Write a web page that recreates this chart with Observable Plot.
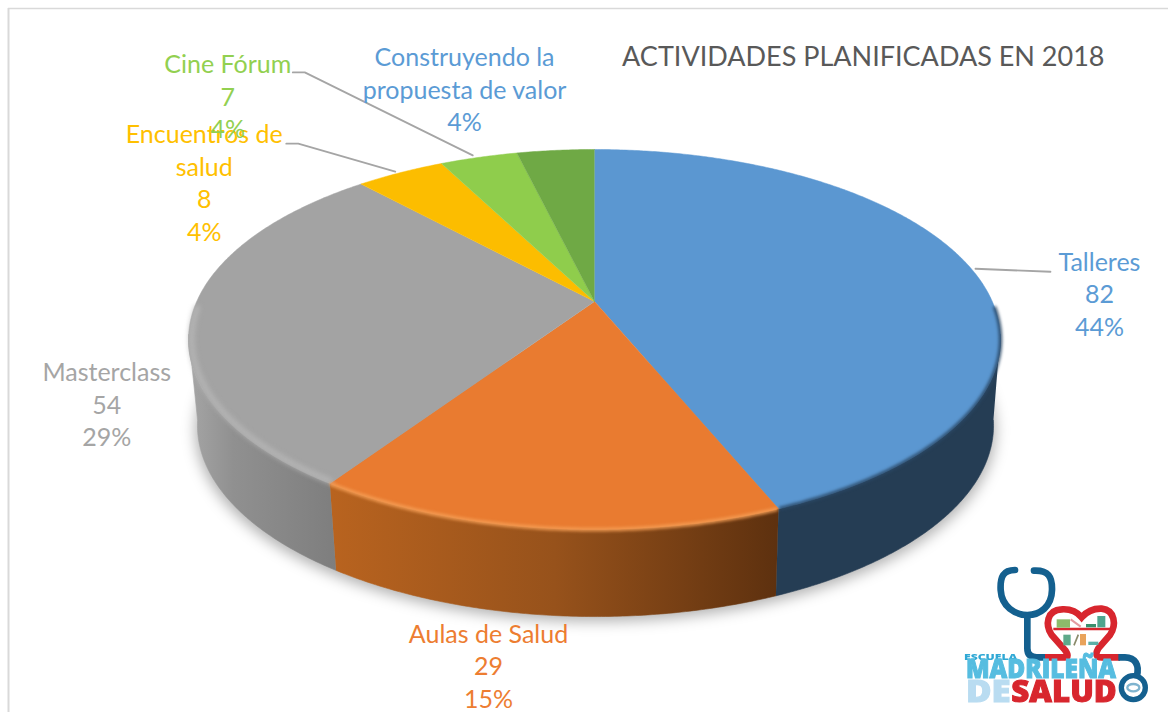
<!DOCTYPE html>
<html><head><meta charset="utf-8">
<script src="https://cdn.jsdelivr.net/npm/d3@7"></script>
<script src="https://cdn.jsdelivr.net/npm/@observablehq/plot@0.6"></script>
<style>
html,body{margin:0;padding:0;background:#fff}
#wrap{position:relative;width:1168px;height:712px;overflow:hidden}
#wrap>svg{display:block}
#logo{position:absolute;left:950px;top:560px;width:218px;height:152px;filter:blur(.6px)}
#logo text{font-family:"Open Sans",sans-serif;font-weight:800;stroke-width:3}
</style></head><body><div id="wrap"><div id="chart"></div>
<svg id="logo" viewBox="0 0 654 456" fill="none">
<path d="M195 30C160 30 150 50 152 90C155 140 195 165 232 165C270 165 305 140 306 90C307 50 295 30 252 32" stroke="#14608f" stroke-width="20" stroke-linecap="round"/>
<path d="M232 165V265Q232 292 260 292H290" stroke="#14608f" stroke-width="20"/>
<path d="M285 292H345Q360 292 345 270L305 225C285 195 290 150 335 148C365 146 385 160 395 172C410 155 430 145 455 146C495 150 500 195 480 225L445 265Q430 292 455 292H510" stroke="#d8262e" stroke-width="20"/>
<path d="M505 292H525C555 292 570 315 560 350" stroke="#14608f" stroke-width="20"/>
<circle cx="550" cy="383" r="36" stroke="#14608f" stroke-width="16"/>
<ellipse cx="550" cy="383" rx="18" ry="11" stroke="#7fb4cf" stroke-width="7"/>
<path d="M310 207H482" stroke="#d8262e" stroke-width="8"/>
<rect x="320" y="178" width="40" height="25" fill="#8dbb6a"/><path d="M362 178L392 200" stroke="#e39aa0" stroke-width="6"/><rect x="442" y="168" width="24" height="34" fill="#4fa58e"/><rect x="408" y="192" width="30" height="10" fill="#3a8f6d"/>
<rect x="340" y="224" width="22" height="32" fill="#5ea98a"/><path d="M372 256L385 224" stroke="#8a8a6a" stroke-width="5"/><rect x="390" y="222" width="18" height="34" fill="#e9a35b"/><rect x="415" y="245" width="30" height="10" fill="#5cb0a8"/>
<text x="42" y="299" font-size="27" fill="#2fa8d5" textLength="160" lengthAdjust="spacingAndGlyphs">ESCUELA</text>
<text x="48" y="355" font-size="78" fill="#56bde0" stroke="#56bde0" textLength="450" lengthAdjust="spacingAndGlyphs">MADRILEÑA</text>
<text x="48" y="426" font-size="88" fill="#b9dcf1" stroke="#b9dcf1" textLength="134" lengthAdjust="spacingAndGlyphs">DE</text>
<text x="184" y="426" font-size="88" fill="#d8262e" stroke="#d8262e" textLength="316" lengthAdjust="spacingAndGlyphs">SALUD</text>
</svg></div>
<script>
// Data
const categories = ["Talleres", "Aulas de Salud", "Masterclass", "Encuentros de salud", "Cine Fórum", "Construyendo la propuesta de valor"];
const values = [82, 29, 54, 8, 7, 7];
const percentLabels = ["44%", "15%", "29%", "4%", "4%", "4%"];
const labelTexts = ["Talleres\n82\n44%", "Aulas de Salud\n29\n15%", "Masterclass\n54\n29%", "Encuentros de\nsalud\n8\n4%", "Cine Fórum\n7\n4%", "Construyendo la\npropuesta de valor\n4%"];
const topColors = ["#5b97d1", "#e97b30", "#a3a3a3", "#fcbd00", "#8fcd4c", "#6fa945"];
const labelColors = ["#5b9bd5", "#ed7d31", "#a5a5a5", "#ffc000", "#92d050", "#5b9bd5"];
const titleText = "ACTIVIDADES PLANIFICADAS EN 2018";

// Perspective disc options
const topDisc = {cx: 594, cy: 301, a: 397.8, b: 182.4, k: 0.2};
const baseDisc = {cx: 595, cy: 386.8, a: 390, b: 183.4, k: 0.2};
const rad = Math.PI / 180;
function project(d, deg) {
  const u = Math.sin(deg * rad), v = Math.cos(deg * rad), w = 1 + d.k * v;
  return {x: d.cx + d.a * u / w, y: d.cy - d.b * v / w};
}
function arc(d, a0, a1) {
  const n = Math.max(2, Math.ceil(Math.abs(a1 - a0) * 2)), out = [];
  for (let i = 0; i <= n; i++) out.push(project(d, a0 + (a1 - a0) * i / n));
  return out;
}
const total = d3.sum(values);
const cum = d3.cumsum(values);
const slices = categories.map((c, i) => ({
  name: c,
  a0: (i ? cum[i - 1] : 0) / total * 360,
  a1: cum[i] / total * 360,
  color: topColors[i]
}));
const mid = s => (s.a0 + s.a1) / 2;
const sideFrom = 100, sideTo = 260;
const sideFills = ["#253d54", "url(#orangeSide)", "url(#greySide)"];

const defs = () => {
  const el = d3.create("svg:defs");
  const grad = (id, x1, x2, stops) => {
    const g = el.append("linearGradient").attr("id", id).attr("gradientUnits", "userSpaceOnUse")
      .attr("x1", x1).attr("x2", x2).attr("y1", 0).attr("y2", 0);
    stops.forEach(([o, c]) => g.append("stop").attr("offset", o).attr("stop-color", c));
  };
  grad("orangeSide", 333, 775, [[0, "#b8631f"], [.5, "#97521b"], [1, "#5e310f"]]);
  grad("greySide", 187, 340, [[0, "#a6a6a6"], [.3, "#909090"], [1, "#7d7d7d"]]);
  return el.node();
};

const marks = [defs];
// frame
marks.push(Plot.ruleY([8], {x1: 8, x2: 1168, stroke: "#d9d9d9", strokeWidth: 1.5}));
marks.push(Plot.ruleX([8], {y1: 8, y2: 712, stroke: "#d9d9d9", strokeWidth: 2}));
// soft shadow
marks.push(Plot.line(arc({...baseDisc, cy: baseDisc.cy + 5, a: baseDisc.a + 2}, sideFrom - 20, sideTo + 20), {x: "x", y: "y", fill: "#000", fillOpacity: .3, stroke: "none", imageFilter: "blur(7px)"}));
// sides
slices.slice(0, 3).forEach((s, i) => {
  const a0 = Math.max(s.a0, sideFrom), a1 = Math.min(s.a1, sideTo);
  marks.push(Plot.line([...arc(topDisc, a0, a1), ...arc(baseDisc, a1, a0)], {x: "x", y: "y", fill: sideFills[i], stroke: sideFills[i], strokeWidth: .6}));
});
// top faces
slices.forEach(s => {
  marks.push(Plot.line([{x: topDisc.cx, y: topDisc.cy}, ...arc(topDisc, s.a0, s.a1)], {x: "x", y: "y", fill: s.color, stroke: s.color, strokeWidth: .5}));
});
// bevels on the front rim
const rim = (a0, a1, color, w, blur, inset, op) => marks.push(Plot.line(arc({...topDisc, a: topDisc.a - inset, b: topDisc.b - inset * .6}, a0, a1), {x: "x", y: "y", stroke: color, strokeWidth: w, strokeOpacity: op, imageFilter: `blur(${blur}px)`, fill: "none"}));
rim(slices[1].a1 + .3, 268, "#b8b8b8", 6, 2.6, 3, .8);
rim(slices[1].a0 + .3, slices[1].a1 - .3, "#f59d55", 4, 1.5, 0, .85);
rim(92, slices[0].a1 - .3, "#2a4866", 3.5, 1.5, 0, .9);
// leader lines
const leaders = [[0, 5, 1, 80, 4], [3, -5, -1, -102, -29], [4, -6, -2, -174, -85]];
leaders.forEach(([i, sx, sy, ex, ey]) => {
  const p = project(topDisc, mid(slices[i]));
  const pts = [{x: p.x + sx, y: p.y + sy}, {x: p.x + ex, y: p.y + ey}];
  if (i) pts.push({x: p.x + ex - 12, y: p.y + ey});
  marks.push(Plot.line(pts, {x: "x", y: "y", stroke: "#a5a5a5", strokeWidth: 1.8}));
});
// data labels: anchored on each slice's rim, moved out by a per-label offset
const labelOffsets = [[129, 25], [-56, 137], [-85, 88], [-196, 9], [-251, -62], [-91, -62]];
slices.forEach((s, i) => {
  const p = project(topDisc, mid(s));
  marks.push(Plot.text([labelTexts[i]], {
    x: () => p.x, y: () => p.y, text: d => d, dx: labelOffsets[i][0], dy: labelOffsets[i][1],
    fill: labelColors[i], fontSize: 25, lineHeight: 1.3, fontFamily: "Lato, Carlito, sans-serif", lineAnchor: "middle", textAnchor: "middle"
  }));
});
// title
marks.push(Plot.text([titleText], {frameAnchor: "top-right", dx: -64, dy: 46, text: d => d, fill: "#595959", fontSize: 27, fontFamily: "Lato, Carlito, sans-serif", lineAnchor: "top"}));

const chart = Plot.plot({
  width: 1168, height: 712, margin: 0,
  x: {domain: [0, 1168], axis: null},
  y: {domain: [0, 712], range: [0, 712], axis: null},
  style: {background: "#fff", overflow: "visible"},
  marks
});
document.getElementById("chart").append(chart);
</script></body></html>
